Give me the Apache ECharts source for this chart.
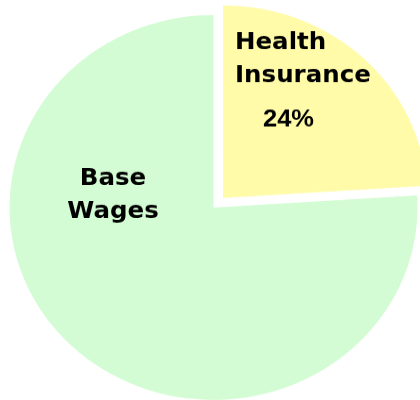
<!DOCTYPE html>
<html>
<head>
<meta charset="utf-8">
<script src="https://cdn.jsdelivr.net/npm/echarts@6/dist/echarts.min.js"></script>
<style>
  html, body { margin: 0; padding: 0; background: #fff; overflow: hidden; }
  #wrap { width: 420px; height: 400px; overflow: hidden; }
  /* the original pie is slightly squashed vertically */
  #chart { width: 420px; height: 424px; transform: scaleY(0.9436); transform-origin: 0 0; }
</style>
</head>
<body>
<div id="wrap"><div id="chart"></div></div>
<script>
// 数据
const categories = ['Health Insurance', 'Base Wages'];
const shares = [24, 76];
const colors = ['#fffba8', '#d4fcd4'];
const labelLines = [['Health', 'Insurance'], ['Base', 'Wages']];
const exploded = [true, false];

const sy = 0.9436;
const cx = 213.5;
const cy = 207.5 / sy;
const explodeDist = 14;

const chart = echarts.init(document.getElementById('chart'), null, { renderer: 'canvas' });

// 拉出扇区的偏移方向（取拉出扇区的中间角度）
const total = shares.reduce((a, b) => a + b, 0);
let acc = 0;
let midAngle = 0;
shares.forEach((v, i) => {
  if (exploded[i]) midAngle = (acc + v / 2) / total * Math.PI * 2;
  acc += v;
});
const dx = Math.sin(midAngle) * explodeDist;
const dy = -Math.cos(midAngle) * explodeDist;

const labelRich = {
  n: {
    fontFamily: 'DejaVu Sans',
    fontWeight: 'bold',
    fontSize: 24.5,
    color: '#000',
    lineHeight: 35
  },
  p: {
    fontFamily: 'Liberation Sans',
    fontWeight: 'bold',
    fontSize: 25.5,
    color: '#000',
    lineHeight: 56,
    padding: [0, 0, 0, 28]
  }
};

// 两层饼图：一层画拉出的扇区，一层画其余扇区
function makeSeries(showExploded) {
  return {
    type: 'pie',
    silent: true,
    center: showExploded ? [cx + dx, cy + dy] : [cx, cy],
    radius: 204,
    startAngle: 90,
    clockwise: true,
    avoidLabelOverlap: false,
    emphasis: { disabled: true },
    labelLine: { show: false },
    label: {
      show: true,
      position: 'inside',
      formatter: (p) => {
        const lines = labelLines[p.dataIndex].map(t => '{n|' + t + '}');
        if (exploded[p.dataIndex]) lines.push('{p|' + Math.round(p.percent) + '%}');
        return lines.join('\n');
      },
      rich: labelRich
    },
    labelLayout: (params) => {
      if (params.dataIndex === 0) {
        return { x: 235, y: 27 / sy, align: 'left', verticalAlign: 'top' };
      }
      return { x: 113, y: 195.5 / sy, align: 'center', verticalAlign: 'middle' };
    },
    data: categories.map((name, i) => {
      const visible = exploded[i] === showExploded;
      return {
        name: name,
        value: shares[i],
        itemStyle: { color: visible ? colors[i] : 'rgba(0,0,0,0)', borderWidth: 0 },
        label: { show: visible }
      };
    })
  };
}

chart.setOption({
  animation: false,
  series: [makeSeries(false), makeSeries(true)]
});
</script>
</body>
</html>
